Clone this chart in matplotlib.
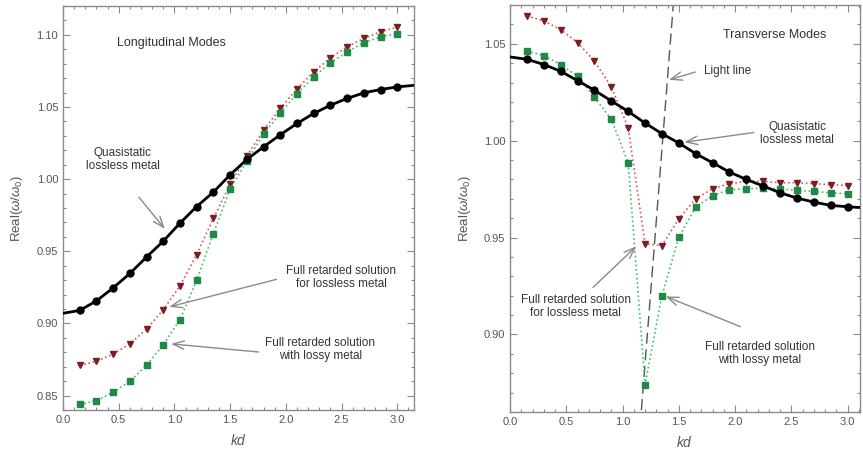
import numpy as np
import matplotlib
matplotlib.use('Agg')
import matplotlib.pyplot as plt
from matplotlib.ticker import MultipleLocator, FormatStrFormatter

plt.rcParams['font.family'] = ['Liberation Sans', 'DejaVu Sans']
plt.rcParams['mathtext.fontset'] = 'custom'
plt.rcParams['mathtext.it'] = 'Liberation Sans:italic'
plt.rcParams['mathtext.rm'] = 'Liberation Sans'

kd = np.round(np.arange(1, 21) * 0.15, 2)

# longitudinal modes
L_qs = [0.909, 0.9156, 0.9246, 0.9346, 0.946, 0.957, 0.9695, 0.981, 0.991, 1.003,
        1.0136, 1.0224, 1.0307, 1.0386, 1.0455, 1.0512, 1.0559, 1.0598, 1.0621, 1.0639]
L_qs_ends = [0.907, 1.065]
L_lossless = [0.871, 0.8737, 0.8787, 0.8859, 0.896, 0.9095, 0.926, 0.9477, 0.9728, 0.9963,
              1.0161, 1.0339, 1.049, 1.0625, 1.0743, 1.084, 1.0917, 1.0975, 1.1021, 1.1053]
L_lossy = [0.8438, 0.8465, 0.8523, 0.8599, 0.871, 0.8853, 0.9026, 0.93, 0.9623, 0.9929,
           1.0127, 1.0312, 1.0455, 1.0593, 1.0709, 1.0805, 1.0882, 1.0945, 1.0986, 1.1009]

# transverse modes
T_qs = [1.042, 1.0393, 1.0358, 1.031, 1.026, 1.0205, 1.0151, 1.0091, 1.0036, 0.9988,
        0.9933, 0.9886, 0.9838, 0.98, 0.9766, 0.9731, 0.9704, 0.9683, 0.9666, 0.9659]
T_qs_ends = [1.0432, 0.9655]
T_lossless = [1.0644, 1.0618, 1.0573, 1.0506, 1.0411, 1.0277, 1.0067, 0.9468, 0.9459, 0.9597,
              0.970, 0.9752, 0.9778, 0.979, 0.979, 0.9783, 0.9783, 0.9778, 0.9773, 0.9768]
T_lossy = [1.0463, 1.0439, 1.0393, 1.0332, 1.0225, 1.011, 0.9886, 0.8741, 0.9201, 0.9502,
           0.9657, 0.9717, 0.9747, 0.9752, 0.9755, 0.9752, 0.9743, 0.9738, 0.9731, 0.9726]
light_kd = [1.10, 1.50]
light_w = [0.8112, 1.1063]

xend_L = 3.15
xend_R = 3.11

gray = '#8a8a8a'
txt = '#333333'
red_line = '#e0505a'
red_mk = '#7a1e22'
green_line = '#3cc060'
green_mk = '#1f8a48'

fig = plt.figure(figsize=(8.63, 4.59), dpi=100)
axL = fig.add_axes([0.073, 0.1068, 0.4067, 0.8802])
axR = fig.add_axes([0.591, 0.1024, 0.4055, 0.8867])


def style(ax, xend, ylim):
    ax.set_xlim(0, xend)
    ax.set_ylim(*ylim)
    ax.xaxis.set_major_locator(MultipleLocator(0.5))
    ax.xaxis.set_minor_locator(MultipleLocator(0.1))
    ax.yaxis.set_major_locator(MultipleLocator(0.05))
    ax.yaxis.set_minor_locator(MultipleLocator(0.01))
    ax.tick_params(which='both', direction='in', top=True, right=True,
                   colors=gray, labelcolor='#555555', labelsize=8, width=0.8)
    ax.tick_params(which='major', length=5)
    ax.tick_params(which='minor', length=2.5)
    ax.xaxis.set_major_formatter(FormatStrFormatter('%.1f'))
    ax.yaxis.set_major_formatter(FormatStrFormatter('%.2f'))
    for s in ax.spines.values():
        s.set_color(gray)
        s.set_linewidth(1.0)
    ax.set_xlabel('$kd$', fontsize=10, color='#555555', labelpad=6)
    ax.set_ylabel(r'Real($\omega/\omega_0$)', fontsize=9.5, color='#555555', labelpad=8)


def curves(ax, xend, qs, qs_ends, lossless, lossy):
    ax.plot(kd, lossless, color=red_line, ls=':', lw=1.2, marker='v', ms=5,
            mfc=red_mk, mec=red_mk, zorder=3)
    ax.plot(kd, lossy, color=green_line, ls=':', lw=1.2, marker='s', ms=4.3,
            mfc=green_mk, mec=green_mk, zorder=3)
    ax.plot([0] + list(kd) + [xend], [qs_ends[0]] + qs + [qs_ends[1]],
            color='black', lw=2, zorder=4)
    ax.plot(kd, qs, ls='none', marker='o', ms=5, color='black', zorder=5)


def note(ax, text, xy_text, xy_head, tail):
    ax.text(xy_text[0], xy_text[1], text, ha='center', va='center',
            fontsize=8.5, color=txt, linespacing=1.1)
    ax.annotate('', xy=xy_head, xytext=tail,
                arrowprops=dict(arrowstyle='->,head_length=0.8,head_width=0.3',
                                color=gray, lw=1.0))


style(axL, xend_L, (0.840, 1.120))
curves(axL, xend_L, L_qs, L_qs_ends, L_lossless, L_lossy)
axL.text(0.976, 1.0945, 'Longitudinal Modes', ha='center', va='center',
         fontsize=9, color=txt)
note(axL, 'Quasistatic\nlossless metal', (0.537, 1.0138), (0.93, 0.964), (0.665, 0.989))
note(axL, 'Full retarded solution\nfor lossless metal', (2.495, 0.932), (0.93, 0.911), (1.94, 0.931))
note(axL, 'Full retarded solution\nwith lossy metal', (2.308, 0.8817), (0.945, 0.886), (1.78, 0.880))

style(axR, xend_R, (0.860, 1.070))
axR.plot(light_kd, light_w, color='#555555', ls=(0, (8, 4)), lw=1.0, zorder=2)
curves(axR, xend_R, T_qs, T_qs_ends, T_lossless, T_lossy)
axR.text(2.353, 1.0544, 'Transverse Modes', ha='center', va='center',
         fontsize=9, color=txt)
note(axR, 'Light line', (1.93, 1.0358), (1.39, 1.031), (1.67, 1.0358))
note(axR, 'Quasistatic\nlossless metal', (2.551, 1.0039), (1.525, 0.999), (2.19, 1.0044))
note(axR, 'Full retarded solution\nfor lossless metal', (0.582, 0.9143), (1.14, 0.9465), (0.72, 0.9233))
note(axR, 'Full retarded solution\nwith lossy metal', (2.219, 0.8902), (1.36, 0.9202), (2.07, 0.9035))

fig.savefig('out.png', dpi=100)
